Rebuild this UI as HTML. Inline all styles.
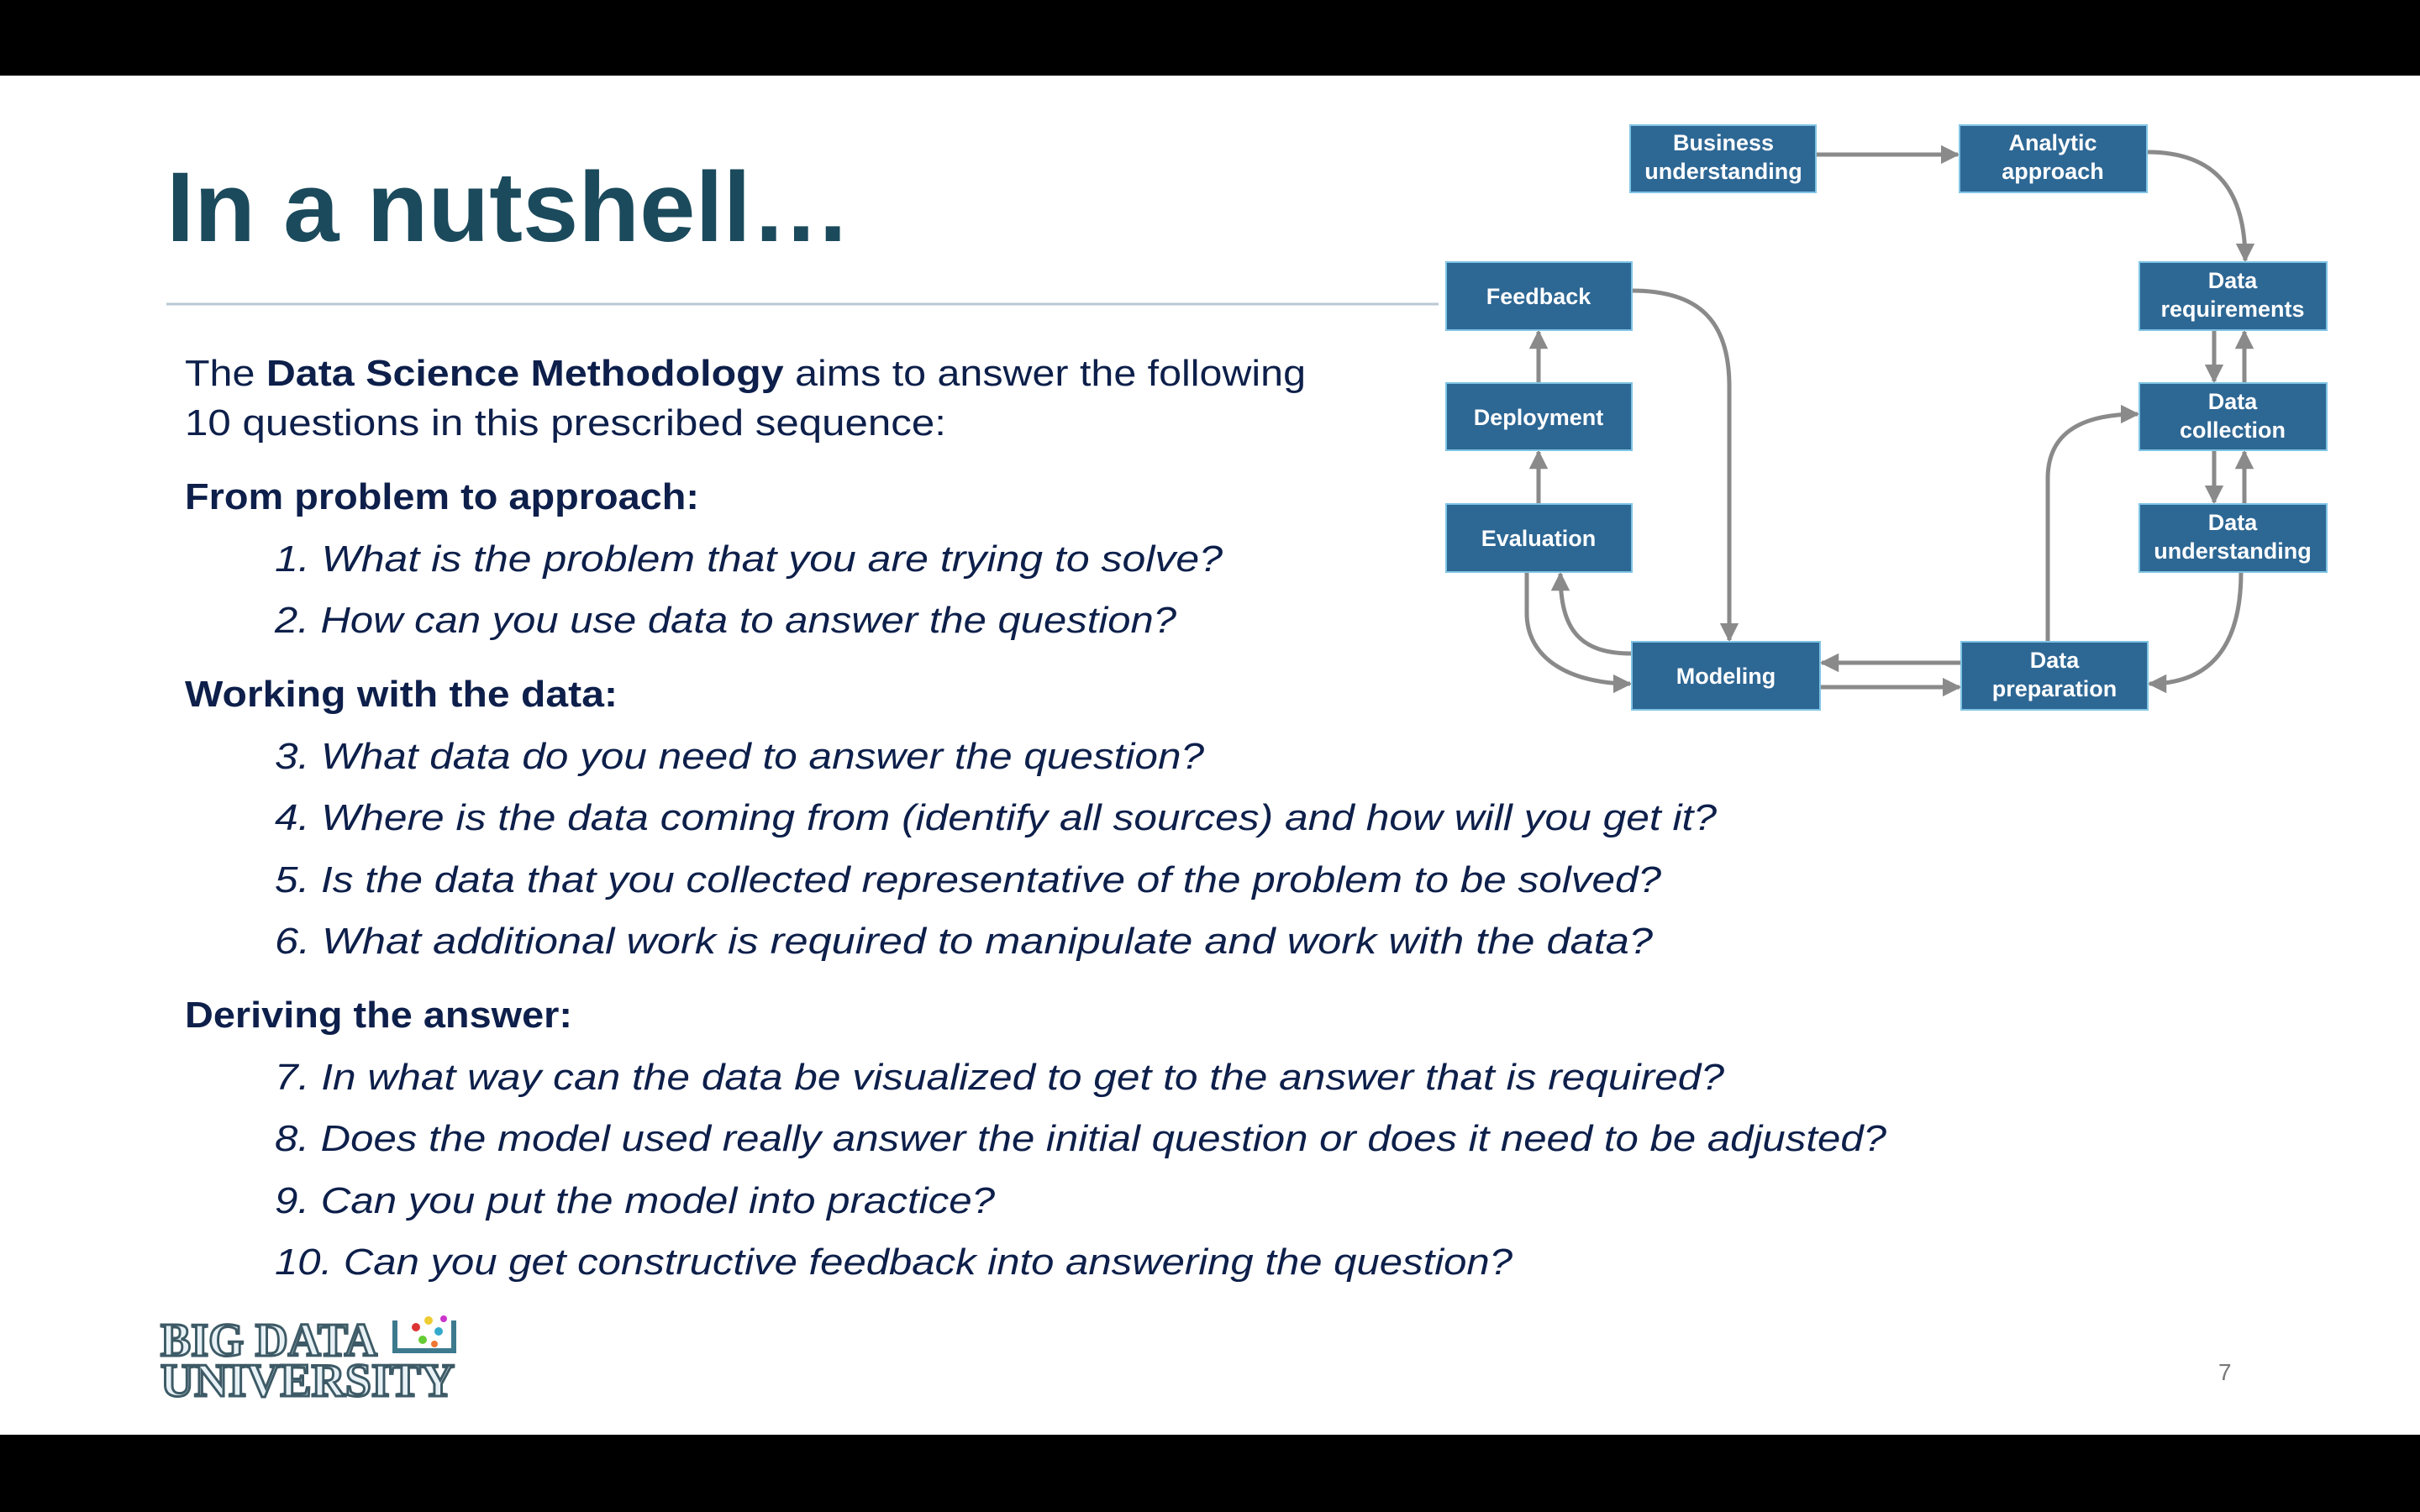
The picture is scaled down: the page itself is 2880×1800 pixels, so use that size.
<!DOCTYPE html>
<html><head><meta charset="utf-8"><style>
html,body{margin:0;padding:0;background:#000;}
svg{display:block}
</style></head><body>
<svg width="2880" height="1800" viewBox="0 0 2880 1800" xmlns="http://www.w3.org/2000/svg">
<defs>
<marker id="a" viewBox="0 0 10 10" refX="9" refY="5" markerWidth="4.5" markerHeight="4.5" orient="auto-start-reverse" markerUnits="strokeWidth">
<path d="M0,0 L10,5 L0,10 z" fill="#8a8a8a"/></marker>
</defs>
<rect x="0" y="0" width="2880" height="1800" fill="#000"/>
<rect x="0" y="90" width="2880" height="1618" fill="#fff"/>
<text x="198" y="287" font-family="Liberation Sans, sans-serif" font-weight="bold" font-size="118" fill="#1b4a5c" textLength="815" lengthAdjust="spacingAndGlyphs">In a nutshell…</text>
<line x1="198" y1="362" x2="1712" y2="362" stroke="#b9c8d4" stroke-width="3"/>
<g font-family="Liberation Sans, sans-serif" font-size="44" fill="#0d1f4a">
<text x="220" y="459" textLength="1334" lengthAdjust="spacingAndGlyphs">The <tspan font-weight="bold">Data Science Methodology</tspan> aims to answer the following</text>
<text x="220" y="518" textLength="906" lengthAdjust="spacingAndGlyphs">10 questions in this prescribed sequence:</text>
<text x="220" y="606" font-weight="bold" textLength="612" lengthAdjust="spacingAndGlyphs">From problem to approach:</text>
<text x="220" y="841" font-weight="bold" textLength="515" lengthAdjust="spacingAndGlyphs">Working with the data:</text>
<text x="220" y="1223" font-weight="bold" textLength="461" lengthAdjust="spacingAndGlyphs">Deriving the answer:</text>
<g font-style="italic">
<text x="327" y="680" textLength="1128" lengthAdjust="spacingAndGlyphs">1. What is the problem that you are trying to solve?</text>
<text x="327" y="753" textLength="1073" lengthAdjust="spacingAndGlyphs">2. How can you use data to answer the question?</text>
<text x="327" y="915" textLength="1106" lengthAdjust="spacingAndGlyphs">3. What data do you need to answer the question?</text>
<text x="327" y="988" textLength="1716" lengthAdjust="spacingAndGlyphs">4. Where is the data coming from (identify all sources) and how will you get it?</text>
<text x="327" y="1062" textLength="1650" lengthAdjust="spacingAndGlyphs">5. Is the data that you collected representative of the problem to be solved?</text>
<text x="327" y="1135" textLength="1640" lengthAdjust="spacingAndGlyphs">6. What additional work is required to manipulate and work with the data?</text>
<text x="327" y="1297" textLength="1725" lengthAdjust="spacingAndGlyphs">7. In what way can the data be visualized to get to the answer that is required?</text>
<text x="327" y="1370" textLength="1918" lengthAdjust="spacingAndGlyphs">8. Does the model used really answer the initial question or does it need to be adjusted?</text>
<text x="327" y="1444" textLength="857" lengthAdjust="spacingAndGlyphs">9. Can you put the model into practice?</text>
<text x="327" y="1517" textLength="1473" lengthAdjust="spacingAndGlyphs">10. Can you get constructive feedback into answering the question?</text>
</g></g>
<text x="2640" y="1643" font-family="Liberation Sans, sans-serif" font-size="28" fill="#777">7</text>
<g font-family="Liberation Serif, serif" font-weight="bold" font-size="56" fill="#e8f2f6" stroke="#3d5a66" stroke-width="3">
<text x="191" y="1614" textLength="258" lengthAdjust="spacingAndGlyphs">BIG DATA</text>
<text x="191" y="1662" textLength="350" lengthAdjust="spacingAndGlyphs">UNIVERSITY</text>
</g>
<g>
<path d="M470,1572 v36 h70 v-36" fill="none" stroke="#3d7a8e" stroke-width="6"/>
<circle cx="495" cy="1580" r="5" fill="#d33"/><circle cx="510" cy="1572" r="5" fill="#ec3"/>
<circle cx="522" cy="1585" r="5" fill="#3ac"/><circle cx="503" cy="1595" r="5" fill="#6c3"/>
<circle cx="517" cy="1600" r="4" fill="#e73"/><circle cx="528" cy="1570" r="4" fill="#c3c"/>
</g>
<g fill="none" stroke="#8a8a8a" stroke-width="5">
<line x1="2161" y1="184" x2="2330" y2="184" marker-end="url(#a)"/>
<path d="M2555,181 C2640,181 2672,230 2672,310" marker-end="url(#a)"/>
<line x1="2635" y1="393" x2="2635" y2="454" marker-end="url(#a)"/>
<line x1="2671" y1="456" x2="2671" y2="395" marker-end="url(#a)"/>
<line x1="2635" y1="536" x2="2635" y2="598" marker-end="url(#a)"/>
<line x1="2671" y1="600" x2="2671" y2="538" marker-end="url(#a)"/>
<path d="M2667,681 C2667,770 2630,814 2558,814" marker-end="url(#a)"/>
<path d="M2437,764 V570 C2437,520 2470,493 2544,493" marker-end="url(#a)"/>
<line x1="2334" y1="789" x2="2168" y2="789" marker-end="url(#a)"/>
<line x1="2166" y1="818" x2="2332" y2="818" marker-end="url(#a)"/>
<path d="M1942,346 C2020,346 2058,380 2058,460 V762" marker-end="url(#a)"/>
<path d="M1817,681 V730 C1817,785 1870,814 1940,814" marker-end="url(#a)"/>
<path d="M1942,778 C1880,778 1857,750 1857,683" marker-end="url(#a)"/>
<line x1="1831" y1="600" x2="1831" y2="538" marker-end="url(#a)"/>
<line x1="1831" y1="456" x2="1831" y2="395" marker-end="url(#a)"/>
</g>
<g fill="#2d6794" stroke="#7fc4e4" stroke-width="2">
<rect x="1940" y="149" width="221" height="80"/>
<rect x="2332" y="149" width="223" height="80"/>
<rect x="1721" y="312" width="221" height="81"/>
<rect x="1721" y="456" width="221" height="80"/>
<rect x="1721" y="600" width="221" height="81"/>
<rect x="1942" y="764" width="224" height="81"/>
<rect x="2334" y="764" width="222" height="81"/>
<rect x="2546" y="312" width="223" height="81"/>
<rect x="2546" y="456" width="223" height="80"/>
<rect x="2546" y="600" width="223" height="81"/>
</g>
<g font-family="Liberation Sans, sans-serif" font-weight="bold" font-size="27" fill="#fff" text-anchor="middle">
<text x="2051" y="179">Business</text><text x="2051" y="213">understanding</text>
<text x="2443" y="179">Analytic</text><text x="2443" y="213">approach</text>
<text x="1831" y="362">Feedback</text>
<text x="1831" y="506">Deployment</text>
<text x="1831" y="650">Evaluation</text>
<text x="2054" y="814">Modeling</text>
<text x="2445" y="795">Data</text><text x="2445" y="829">preparation</text>
<text x="2657" y="343">Data</text><text x="2657" y="377">requirements</text>
<text x="2657" y="487">Data</text><text x="2657" y="521">collection</text>
<text x="2657" y="631">Data</text><text x="2657" y="665">understanding</text>
</g>
</svg>
</body></html>
